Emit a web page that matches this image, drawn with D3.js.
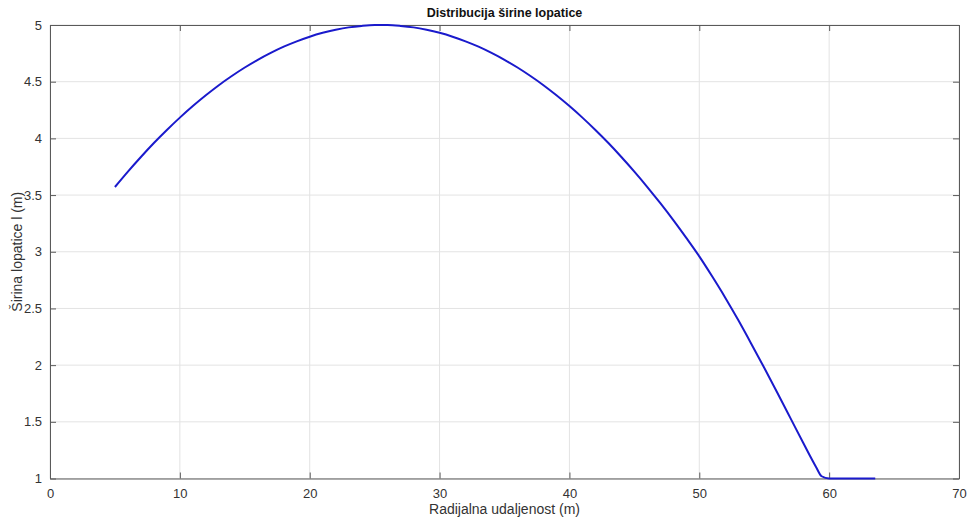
<!DOCTYPE html>
<html><head><meta charset="utf-8">
<script src="https://cdn.jsdelivr.net/npm/d3@7"></script>
<style>body{margin:0;background:#fff;} text{font-family:"Liberation Sans",Arial,sans-serif;}</style>
</head><body><svg id="c" width="967" height="520"></svg>
<script>
const radius = [5, 6, 7, 8, 9, 10, 11, 12, 13, 14, 15, 16, 17, 18, 19, 20, 21, 22, 23, 24, 25, 26, 27, 28, 29, 30,
  31, 32, 33, 34, 35, 36, 37, 38, 39, 40, 41, 42, 43, 44, 45, 46, 47, 48, 49, 50,
  51, 52, 53, 54, 55, 56, 57, 58, 59, 59.42, 60, 63.55];
const width = [3.571, 3.707, 3.836, 3.959, 4.074, 4.183, 4.285, 4.380, 4.469, 4.550, 4.625, 4.693, 4.754, 4.809, 4.856, 4.897, 4.931, 4.958, 4.979, 4.992, 4.999,
  4.999, 4.992, 4.979, 4.958, 4.931, 4.897, 4.856, 4.809, 4.754, 4.693, 4.625, 4.550, 4.469, 4.380, 4.285, 4.183, 4.074, 3.959, 3.836, 3.707, 3.571, 3.428, 3.279, 3.122, 2.959,
  2.781, 2.595, 2.397, 2.189, 1.976, 1.758, 1.537, 1.315, 1.100, 1.02, 1.0, 1.0];
const xTicks = [0, 10, 20, 30, 40, 50, 60, 70];
const yTicks = [1, 1.5, 2, 2.5, 3, 3.5, 4, 4.5, 5];

const svg = d3.select("#c");
const L = 50, R = 959, T = 25, B = 478.5;
const x = d3.scaleLinear().domain([0, 70]).range([L, R]);
const y = d3.scaleLinear().domain([1, 5]).range([B, T]);
const axisCol = "#5a5a5a", txtCol = "#333";

// grid
svg.append("g").selectAll("line").data(xTicks).join("line")
  .attr("x1", d => x(d)).attr("x2", d => x(d)).attr("y1", T).attr("y2", B)
  .attr("stroke", "#e3e3e3").attr("stroke-width", 1);
svg.append("g").selectAll("line").data(yTicks).join("line")
  .attr("y1", d => y(d)).attr("y2", d => y(d)).attr("x1", L).attr("x2", R)
  .attr("stroke", "#e3e3e3").attr("stroke-width", 1);

// axes (inward ticks)
const fmt = d3.format("~g");
const bx = svg.append("g").attr("transform", `translate(0,${B})`)
  .call(d3.axisBottom(x).tickValues(xTicks).tickFormat(fmt).tickSizeInner(-6).tickSizeOuter(0).tickPadding(10));
const ly = svg.append("g").attr("transform", `translate(${L},0)`)
  .call(d3.axisLeft(y).tickValues(yTicks).tickFormat(fmt).tickSizeInner(-6).tickSizeOuter(0).tickPadding(8));
const tx = svg.append("g").attr("transform", `translate(0,${T})`)
  .call(d3.axisTop(x).tickValues(xTicks).tickFormat("").tickSizeInner(-6).tickSizeOuter(0));
const ry = svg.append("g").attr("transform", `translate(${R},0)`)
  .call(d3.axisRight(y).tickValues(yTicks).tickFormat("").tickSizeInner(-6).tickSizeOuter(0));
[bx, ly, tx, ry].forEach(g => {
  g.selectAll("path").attr("stroke", axisCol);
  g.selectAll("line").attr("stroke", axisCol);
  g.selectAll("text").attr("fill", txtCol).style("font-size", "13px").style("font-family", "'Liberation Sans',Arial,sans-serif");
});

// line
const pts = radius.map((r, i) => [r, width[i]]);
svg.append("path").datum(pts)
  .attr("d", d3.line().x(d => x(d[0])).y(d => y(d[1])).curve(d3.curveMonotoneX))
  .attr("fill", "none").attr("stroke", "#1a1acc").attr("stroke-width", 2);

// labels
svg.append("text").attr("x", (L + R) / 2).attr("y", 17).attr("text-anchor", "middle")
  .style("font-size", "12.5px").style("font-weight", "bold").attr("fill", "#111")
  .text("Distribucija širine lopatice");
svg.append("text").attr("x", (L + R) / 2).attr("y", 514).attr("text-anchor", "middle")
  .style("font-size", "14px").attr("fill", txtCol).text("Radijalna udaljenost (m)");
svg.append("text").attr("transform", `translate(22,${(T + B) / 2}) rotate(-90)`).attr("text-anchor", "middle")
  .style("font-size", "14px").attr("fill", txtCol).text("Širina lopatice l (m)");
</script></body></html>
